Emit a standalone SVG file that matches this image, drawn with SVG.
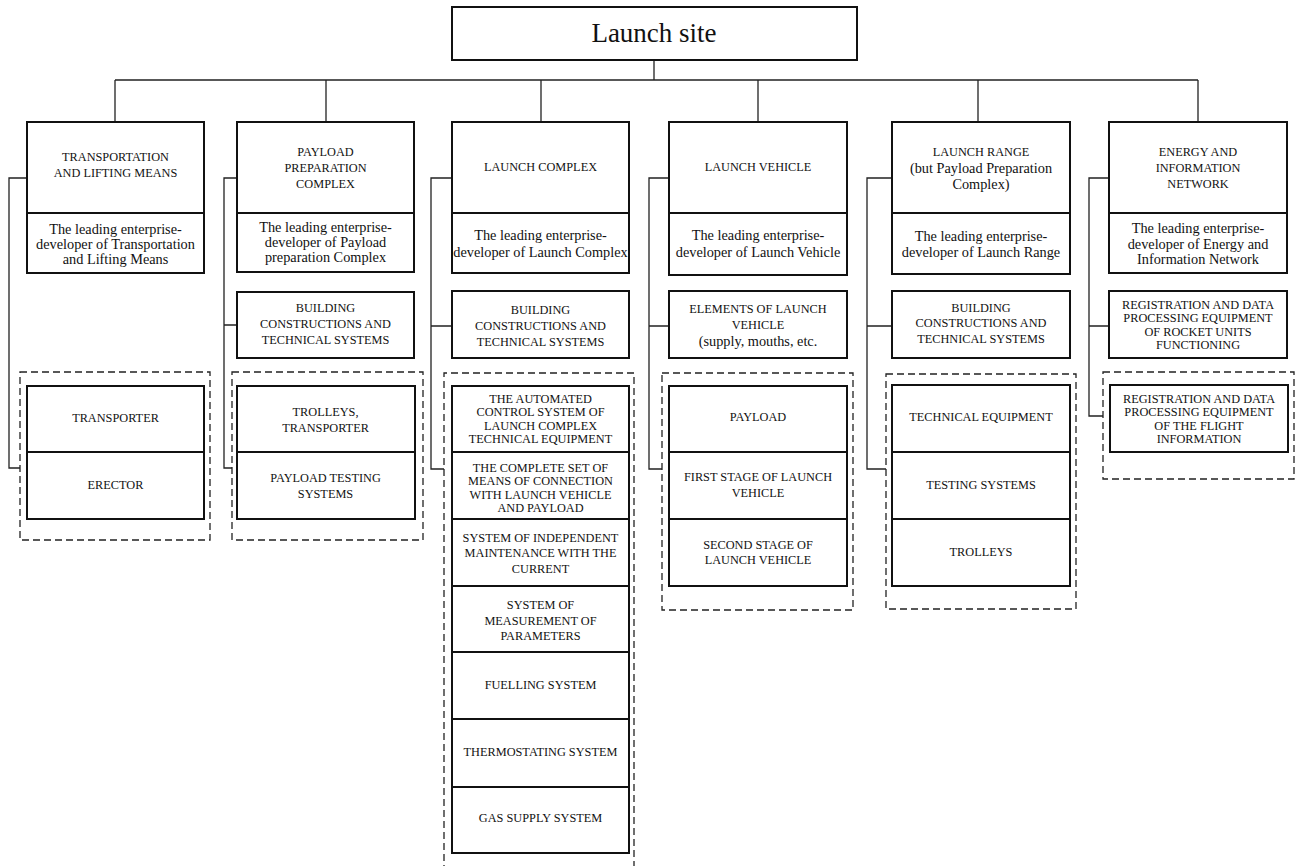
<svg xmlns="http://www.w3.org/2000/svg" width="1302" height="866" viewBox="0 0 1302 866">
<style>
.b{fill:#fff;stroke:#111;stroke-width:2}
.d{fill:none;stroke:#222;stroke-width:1.3;stroke-dasharray:7 4}
.c{fill:none;stroke:#222;stroke-width:1.3}
text{font-family:"Liberation Serif","Times New Roman",serif;fill:#111;text-anchor:middle;dominant-baseline:central}
.u{font-size:12.3px}
.l{font-size:14.3px}
.t{font-size:27px}
</style>
<rect width="1302" height="866" fill="#fff"/>
<g id="connectors">
<path class="c" d="M654 60V80M115 80H1198M115 80V122M326 80V122M541 80V122M758 80V122M978 80V122M1198 80V122"/>
<path class="c" d="M27 178H9V468H20"/>
<path class="c" d="M237 178H224V468H232M224 325H237"/>
<path class="c" d="M452 178H431V469H444M431 326H452"/>
<path class="c" d="M669 178H649V469H662M649 326H669"/>
<path class="c" d="M892 178H867V469H886M867 326H892"/>
<path class="c" d="M1109 178H1089V416H1103M1089 326H1109"/>
</g>
<g id="launch-site">
<rect class="b" x="452" y="7" width="405" height="53"/>
<text class="t" x="654" y="33">Launch site</text>
</g>
<g id="col1">
<rect class="b" x="27" y="122" width="177" height="91"/>
<text class="u" x="115.5" y="157">TRANSPORTATION</text>
<text class="u" x="115.5" y="173">AND LIFTING MEANS</text>
<rect class="b" x="27" y="213" width="177" height="60"/>
<text class="l" x="115.5" y="229">The leading enterprise-</text>
<text class="l" x="115.5" y="244">developer of Transportation</text>
<text class="l" x="115.5" y="259">and Lifting Means</text>
<rect class="d" x="20" y="372" width="190" height="168"/>
<rect class="b" x="27" y="386" width="177" height="66"/>
<text class="u" x="115.5" y="418">TRANSPORTER</text>
<rect class="b" x="27" y="452" width="177" height="67"/>
<text class="u" x="115.5" y="485">ERECTOR</text>
</g>
<g id="col2">
<rect class="b" x="237" y="122" width="177" height="91"/>
<text class="u" x="325.5" y="152">PAYLOAD</text>
<text class="u" x="325.5" y="168">PREPARATION</text>
<text class="u" x="325.5" y="184">COMPLEX</text>
<rect class="b" x="237" y="213" width="177" height="59"/>
<text class="l" x="325.5" y="227">The leading enterprise-</text>
<text class="l" x="325.5" y="242">developer of Payload</text>
<text class="l" x="325.5" y="257">preparation Complex</text>
<rect class="b" x="237" y="292" width="177" height="66"/>
<text class="u" x="325.5" y="308">BUILDING</text>
<text class="u" x="325.5" y="324">CONSTRUCTIONS AND</text>
<text class="u" x="325.5" y="340">TECHNICAL SYSTEMS</text>
<rect class="d" x="232" y="372" width="191" height="168"/>
<rect class="b" x="237" y="386" width="178" height="66"/>
<text class="u" x="325.5" y="412">TROLLEYS,</text>
<text class="u" x="325.5" y="428">TRANSPORTER</text>
<rect class="b" x="237" y="452" width="178" height="67"/>
<text class="u" x="325.5" y="478">PAYLOAD TESTING</text>
<text class="u" x="325.5" y="494">SYSTEMS</text>
</g>
<g id="col3">
<rect class="b" x="452" y="122" width="177" height="91"/>
<text class="u" x="540.5" y="167">LAUNCH COMPLEX</text>
<rect class="b" x="452" y="213" width="177" height="60"/>
<text class="l" x="540.5" y="235">The leading enterprise-</text>
<text class="l" x="540.5" y="252">developer of Launch Complex</text>
<rect class="b" x="452" y="291" width="177" height="67"/>
<text class="u" x="540.5" y="310">BUILDING</text>
<text class="u" x="540.5" y="326">CONSTRUCTIONS AND</text>
<text class="u" x="540.5" y="342">TECHNICAL SYSTEMS</text>
<path class="d" d="M444 872V373H634V872"/>
<rect class="b" x="452" y="386" width="177" height="66"/>
<text class="u" x="540.5" y="399">THE AUTOMATED</text>
<text class="u" x="540.5" y="412">CONTROL SYSTEM OF</text>
<text class="u" x="540.5" y="426">LAUNCH COMPLEX</text>
<text class="u" x="540.5" y="439">TECHNICAL EQUIPMENT</text>
<rect class="b" x="452" y="452" width="177" height="67"/>
<text class="u" x="540.5" y="468">THE COMPLETE SET OF</text>
<text class="u" x="540.5" y="481">MEANS OF CONNECTION</text>
<text class="u" x="540.5" y="495">WITH LAUNCH VEHICLE</text>
<text class="u" x="540.5" y="508">AND PAYLOAD</text>
<rect class="b" x="452" y="519" width="177" height="67"/>
<text class="u" x="540.5" y="538">SYSTEM OF INDEPENDENT</text>
<text class="u" x="540.5" y="553">MAINTENANCE WITH THE</text>
<text class="u" x="540.5" y="569">CURRENT</text>
<rect class="b" x="452" y="586" width="177" height="66"/>
<text class="u" x="540.5" y="605">SYSTEM OF</text>
<text class="u" x="540.5" y="621">MEASUREMENT OF</text>
<text class="u" x="540.5" y="636">PARAMETERS</text>
<rect class="b" x="452" y="652" width="177" height="67"/>
<text class="u" x="540.5" y="685">FUELLING SYSTEM</text>
<rect class="b" x="452" y="719" width="177" height="68"/>
<text class="u" x="540.5" y="752">THERMOSTATING SYSTEM</text>
<rect class="b" x="452" y="787" width="177" height="66"/>
<text class="u" x="540.5" y="818">GAS SUPPLY SYSTEM</text>
</g>
<g id="col4">
<rect class="b" x="669" y="122" width="178" height="91"/>
<text class="u" x="758" y="167">LAUNCH VEHICLE</text>
<rect class="b" x="669" y="213" width="178" height="62"/>
<text class="l" x="758" y="235">The leading enterprise-</text>
<text class="l" x="758" y="252">developer of Launch Vehicle</text>
<rect class="b" x="669" y="291" width="178" height="67"/>
<text class="u" x="758" y="309">ELEMENTS OF LAUNCH</text>
<text class="u" x="758" y="325">VEHICLE</text>
<text class="l" x="758" y="341">(supply, mouths, etc.</text>
<rect class="d" x="662" y="373" width="191" height="237"/>
<rect class="b" x="669" y="386" width="178" height="66"/>
<text class="u" x="758" y="417">PAYLOAD</text>
<rect class="b" x="669" y="452" width="178" height="67"/>
<text class="u" x="758" y="477">FIRST STAGE OF LAUNCH</text>
<text class="u" x="758" y="493">VEHICLE</text>
<rect class="b" x="669" y="519" width="178" height="67"/>
<text class="u" x="758" y="545">SECOND STAGE OF</text>
<text class="u" x="758" y="560">LAUNCH VEHICLE</text>
</g>
<g id="col5">
<rect class="b" x="892" y="122" width="178" height="91"/>
<text class="u" x="981" y="152">LAUNCH RANGE</text>
<text class="l" x="981" y="168">(but Payload Preparation</text>
<text class="l" x="981" y="184">Complex)</text>
<rect class="b" x="892" y="213" width="178" height="61"/>
<text class="l" x="981" y="236">The leading enterprise-</text>
<text class="l" x="981" y="252">developer of Launch Range</text>
<rect class="b" x="892" y="291" width="178" height="67"/>
<text class="u" x="981" y="308">BUILDING</text>
<text class="u" x="981" y="323">CONSTRUCTIONS AND</text>
<text class="u" x="981" y="339">TECHNICAL SYSTEMS</text>
<rect class="d" x="886" y="374" width="190" height="235"/>
<rect class="b" x="892" y="385" width="178" height="67"/>
<text class="u" x="981" y="417">TECHNICAL EQUIPMENT</text>
<rect class="b" x="892" y="452" width="178" height="67"/>
<text class="u" x="981" y="485">TESTING SYSTEMS</text>
<rect class="b" x="892" y="519" width="178" height="67"/>
<text class="u" x="981" y="552">TROLLEYS</text>
</g>
<g id="col6">
<rect class="b" x="1109" y="122" width="178" height="91"/>
<text class="u" x="1198" y="152">ENERGY AND</text>
<text class="u" x="1198" y="168">INFORMATION</text>
<text class="u" x="1198" y="184">NETWORK</text>
<rect class="b" x="1109" y="213" width="178" height="60"/>
<text class="l" x="1198" y="228">The leading enterprise-</text>
<text class="l" x="1198" y="244">developer of Energy and</text>
<text class="l" x="1198" y="259">Information Network</text>
<rect class="b" x="1109" y="291" width="178" height="67"/>
<text class="u" x="1198" y="305">REGISTRATION AND DATA</text>
<text class="u" x="1198" y="318">PROCESSING EQUIPMENT</text>
<text class="u" x="1198" y="332">OF ROCKET UNITS</text>
<text class="u" x="1198" y="345">FUNCTIONING</text>
<rect class="d" x="1103" y="372" width="191" height="107"/>
<rect class="b" x="1110" y="385" width="178" height="67"/>
<text class="u" x="1199" y="399">REGISTRATION AND DATA</text>
<text class="u" x="1199" y="412">PROCESSING EQUIPMENT</text>
<text class="u" x="1199" y="426">OF THE FLIGHT</text>
<text class="u" x="1199" y="439">INFORMATION</text>
</g>
</svg>
